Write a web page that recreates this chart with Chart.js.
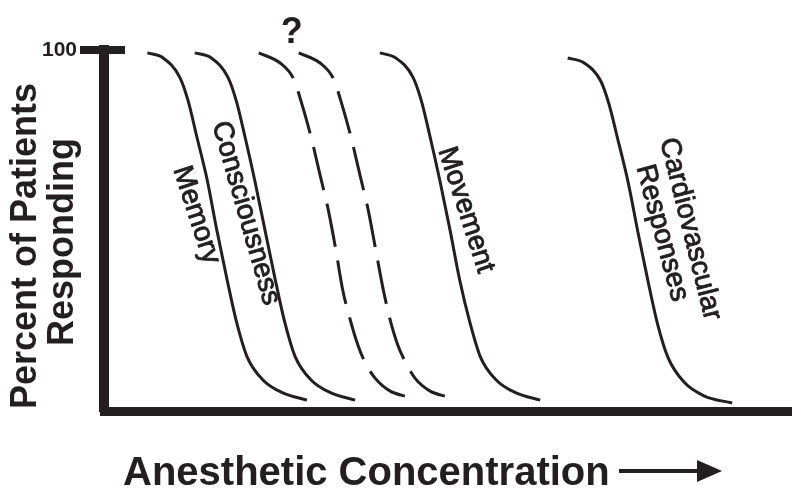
<!DOCTYPE html>
<html>
<head>
<meta charset="utf-8">
<script src="https://cdn.jsdelivr.net/npm/chart.js@4.4.1/dist/chart.umd.min.js"></script>
<style>html,body{margin:0;padding:0;background:#fff;}canvas{display:block;}</style>
</head>
<body>
<canvas id="c" width="792" height="490"></canvas>
<script>
// ---- data (concentration in arbitrary units 0-100) ----
const curveNames = ['Memory', 'Consciousness', '?', '?', 'Movement', 'Cardiovascular Responses'];

const memoryConc = [6.3, 8.6, 11.0, 12.2, 13.5, 15.0, 16.4, 17.9, 19.3, 20.8, 23.1, 26.0, 29.5];
const memoryPct  = [99.2, 97.8, 92.5, 86.1, 75.9, 64.0, 50.1, 36.3, 24.4, 15.0, 8.6, 5.0, 3.0];

const consciousnessConc = [13.2, 15.6, 18.0, 19.2, 20.5, 21.9, 23.4, 24.9, 26.3, 27.8, 30.1, 33.0, 36.5];
const consciousnessPct  = [99.2, 97.8, 92.5, 86.1, 75.9, 64.0, 50.1, 36.3, 24.4, 15.0, 8.6, 5.0, 3.0];

const unknownAConc = [22.5, 25.6, 27.5, 28.8, 30.2, 31.4, 32.6, 33.7, 34.7, 35.8, 36.9, 37.9, 39.4, 41.6, 44.2];
const unknownAPct  = [99.2, 96.4, 92.2, 84.8, 75.1, 65.4, 55.7, 44.6, 33.5, 25.2, 18.3, 13.6, 9.1, 5.5, 3.9];

const unknownBConc = [28.3, 31.4, 33.3, 34.6, 36.0, 37.2, 38.4, 39.5, 40.6, 41.6, 42.7, 43.8, 45.2, 47.4, 50.0];
const unknownBPct  = [99.2, 96.4, 92.2, 84.8, 75.1, 65.4, 55.7, 44.6, 33.5, 25.2, 18.3, 13.6, 9.1, 5.5, 3.9];

const movementConc = [40.1, 42.4, 44.9, 46.1, 47.4, 48.8, 50.3, 51.7, 53.2, 54.7, 57.0, 59.9, 63.4];
const movementPct  = [99.2, 97.8, 92.5, 86.1, 75.9, 64.0, 50.1, 36.3, 24.4, 15.0, 8.6, 5.0, 3.0];

const cardioConc = [67.4, 69.8, 72.2, 73.4, 74.7, 76.2, 77.6, 79.1, 80.5, 82.0, 84.3, 87.2, 91.3];
const cardioPct  = [97.8, 96.4, 91.4, 85.0, 75.1, 63.2, 49.6, 35.7, 23.8, 14.7, 8.0, 4.2, 2.2];

const yTickValues = [100];
const yTickLabels = ['100'];
const yTitleLines = ['Percent of Patients', 'Responding'];
const xTitleText = 'Anesthetic Concentration';

// ---- styling ----
const INK = '#231f20';
const FONT = '"Liberation Sans", Arial, Helvetica, sans-serif';

function pts(xs, ys) { return xs.map((v, i) => ({ x: v, y: ys[i] })); }

function ds(label, xs, ys, dashed) {
  return {
    label: label,
    data: pts(xs, ys),
    borderColor: INK,
    borderWidth: 3,
    borderDash: dashed ? [44, 14] : [],
    borderCapStyle: 'butt',
    pointRadius: 0,
    fill: false,
    cubicInterpolationMode: 'monotone'
  };
}

// label anchors in data coordinates: [text, x, y, angleDeg]
const curveLabels = [
  ['Memory', 13.4, 54.3, 72],
  ['Consciousness', 20.6, 54.8, 74],
  ['Movement', 52.6, 55.7, 72],
  ['Cardiovascular', 85.2, 50.4, 76],
  ['Responses', 81.1, 49.3, 75]
];

const decor = {
  id: 'decor',
  afterDraw(chart) {
    const { ctx, scales: { x, y } } = chart;
    ctx.save();
    ctx.fillStyle = INK;
    ctx.strokeStyle = INK;

    // 100 tick mark crossing the axis
    const ty = y.getPixelForValue(yTickValues[0]);
    ctx.fillRect(x.left - 24, ty - 4, 45, 8);

    // curve labels
    ctx.font = 'normal 28px ' + FONT;
    ctx.textAlign = 'center';
    ctx.textBaseline = 'middle';
    ctx.lineWidth = 0.9;
    ctx.lineJoin = 'round';
    curveLabels.forEach(([t, dx, dy, ang]) => {
      ctx.save();
      ctx.translate(x.getPixelForValue(dx), y.getPixelForValue(dy));
      ctx.rotate(ang * Math.PI / 180);
      ctx.fillText(t, 0, 0);
      ctx.strokeText(t, 0, 0);
      ctx.restore();
    });

    // question mark above the dashed curves
    ctx.font = 'bold 36px ' + FONT;
    ctx.fillText('?', x.getPixelForValue(27.3), y.getPixelForValue(104.7));

    // y-axis title (two lines, rotated)
    ctx.font = 'bold 36px ' + FONT;
    ctx.textBaseline = 'alphabetic';
    ctx.save();
    ctx.translate(36, 246);
    ctx.rotate(-Math.PI / 2);
    ctx.fillText(yTitleLines[0], 0, 0);
    ctx.restore();
    ctx.save();
    ctx.translate(73, 242);
    ctx.rotate(-Math.PI / 2);
    ctx.fillText(yTitleLines[1], 0, 0);
    ctx.restore();

    // x-axis title with arrow
    ctx.font = 'bold 40px ' + FONT;
    ctx.textAlign = 'left';
    ctx.fillText(xTitleText, 123, 485);
    const ay = 471;
    ctx.lineWidth = 4;
    ctx.beginPath();
    ctx.moveTo(619, ay);
    ctx.lineTo(702, ay);
    ctx.stroke();
    ctx.beginPath();
    ctx.moveTo(722, ay);
    ctx.lineTo(697, ay - 11);
    ctx.lineTo(697, ay + 11);
    ctx.closePath();
    ctx.fill();
    ctx.restore();
  }
};

new Chart(document.getElementById('c'), {
  type: 'line',
  data: {
    datasets: [
      ds(curveNames[0], memoryConc, memoryPct, false),
      ds(curveNames[1], consciousnessConc, consciousnessPct, false),
      ds(curveNames[2], unknownAConc, unknownAPct, true),
      ds(curveNames[3], unknownBConc, unknownBPct, true),
      ds(curveNames[4], movementConc, movementPct, false),
      ds(curveNames[5], cardioConc, cardioPct, false)
    ]
  },
  options: {
    responsive: false,
    animation: false,
    layout: { padding: { top: 50, right: 0, bottom: 0, left: 0 } },
    plugins: { legend: { display: false }, tooltip: { enabled: false } },
    scales: {
      x: {
        type: 'linear', min: 0, max: 100,
        afterFit(s) { s.height = 79; },
        ticks: { display: false },
        grid: { display: false, drawTicks: false },
        border: { display: true, width: 9, color: INK }
      },
      y: {
        type: 'linear', min: 0, max: 100,
        afterFit(s) { s.width = 104; },
        afterBuildTicks(s) { s.ticks = yTickValues.map(v => ({ value: v })); },
        ticks: {
          callback: (v) => { const i = yTickValues.indexOf(v); return i >= 0 ? yTickLabels[i] : ''; },
          font: { family: FONT, size: 21, weight: 'bold' },
          color: INK,
          padding: 27
        },
        grid: { display: false, drawTicks: false },
        border: { display: true, width: 10, color: INK }
      }
    }
  },
  plugins: [decor]
});
</script>
</body>
</html>
